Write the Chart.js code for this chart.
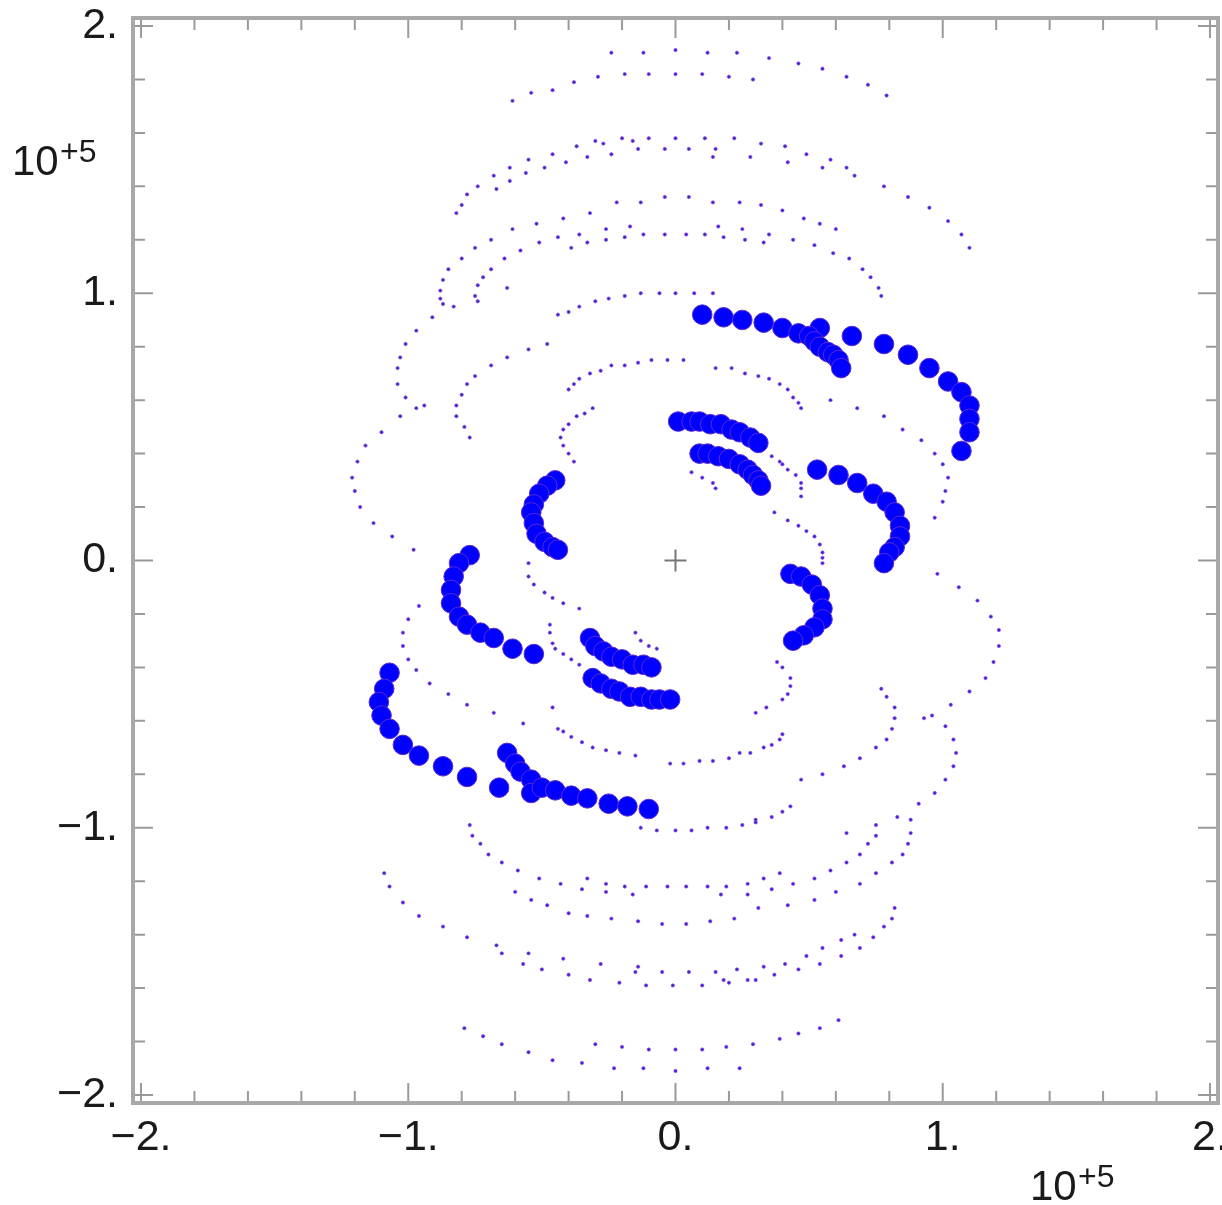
<!DOCTYPE html>
<html>
<head>
<meta charset="utf-8">
<script src="https://cdn.jsdelivr.net/npm/chart.js@4"></script>
<style>
  html, body { margin: 0; padding: 0; background: #fff; overflow: hidden; }
  #myChart { display: block; }
</style>
</head>
<body>
<canvas id="myChart" width="1222" height="1205"></canvas>
<script>
// values in units of 10^5
var tickValues = [-2, -1, 0, 1, 2];
var tickLabels = ['\u22122.', '\u22121.', '0.', '1.', '2.'];
var exponentLabel = ['10', '+5'];

// small dots, upper part
var dotsTop = [
  [-0.24,1.90],[-0.12,1.90],[0.00,1.91],[0.12,1.90],[0.23,1.90],[0.35,1.88],[0.46,1.86],[0.55,1.84],[0.64,1.81],[0.72,1.78],[0.79,1.74],
  [-0.61,1.72],[-0.54,1.75],[-0.46,1.76],[-0.38,1.79],[-0.29,1.81],[-0.19,1.82],[-0.10,1.82],[0.00,1.82],[0.10,1.82],[0.20,1.81],[0.29,1.80],
  [-0.41,1.49],[-0.37,1.55],[-0.33,1.51],[-0.30,1.57],[-0.27,1.56],[-0.24,1.52],[-0.20,1.58],[-0.16,1.57],[-0.14,1.54],[-0.10,1.58],
  [-0.04,1.54],[0.00,1.58],[0.05,1.54],[0.11,1.58],[0.15,1.54],[0.14,1.51],[0.22,1.58],[0.28,1.51],[0.32,1.56],[0.41,1.55],[0.49,1.52],
  [0.58,1.50],[0.42,1.49],[0.55,1.47],[0.64,1.47],[0.67,1.44],[0.78,1.40],[0.87,1.36],[0.95,1.32],[1.02,1.27],[1.07,1.22],[1.10,1.17],
  [-0.46,1.52],[-0.55,1.50],[-0.62,1.47],[-0.49,1.47],[-0.68,1.44],[-0.56,1.45],[-0.62,1.42],[-0.74,1.40],[-0.67,1.39],[-0.78,1.37],
  [-0.80,1.33],[-0.82,1.30],
  [-0.42,1.28],[-0.32,1.30],[-0.22,1.34],[-0.13,1.34],[-0.04,1.36],[0.05,1.36],[0.14,1.34],[0.24,1.34],[0.32,1.33],[0.40,1.31],
  [-0.39,1.17],[-0.33,1.19],[-0.36,1.22],[-0.26,1.24],[-0.26,1.20],[-0.17,1.25],[-0.19,1.21],[-0.12,1.22],[-0.04,1.22],[0.04,1.22],
  [0.11,1.22],[0.16,1.25],[0.18,1.21],[0.25,1.24],[0.26,1.20],[0.35,1.22],[0.33,1.19],
  [0.48,1.28],[0.54,1.26],[0.60,1.24],[0.44,1.20],[0.52,1.18],[0.59,1.15],[0.65,1.13],[0.70,1.09],[0.73,1.06],[0.76,1.02],[0.77,0.99],
  [-0.52,1.26],[-0.61,1.24],[-0.44,1.21],[-0.69,1.20],[-0.51,1.19],[-0.75,1.17],[-0.58,1.16],[-0.80,1.13],[-0.64,1.13],[-0.69,1.09],
  [-0.85,1.09],[-0.72,1.06],[-0.87,1.05],[-0.74,1.03],[-0.63,1.02],[-0.88,1.01],[-0.75,0.99],[-0.88,0.98],
  [-0.30,0.97],[-0.25,0.98],[-0.19,0.99],[-0.13,1.00],[-0.06,1.00],[0.00,1.00],[0.07,1.00],[0.14,1.00]
];

// small dots, middle part
var dotsMiddle = [
  [-0.87,0.96],[-0.83,0.95],[-0.74,0.97],[-0.91,0.91],[-0.97,0.86],[-1.01,0.81],[-1.03,0.76],[-1.04,0.72],[-1.04,0.66],[-1.01,0.61],
  [-1.03,0.54],[-1.10,0.48],[-1.16,0.43],[-1.19,0.37],[-1.21,0.31],[-1.20,0.26],[-1.18,0.20],[-1.13,0.14],[-1.06,0.09],[-0.98,0.04],
  [-0.44,0.92],[-0.48,0.81],[-0.55,0.79],[-0.63,0.76],[-0.69,0.73],[-0.75,0.69],[-0.78,0.66],[-0.80,0.62],[-0.82,0.58],[-0.82,0.54],
  [-0.79,0.50],[-0.77,0.46],[-0.94,0.58],[-0.97,0.57],
  [-0.40,0.93],[-0.36,0.95],
  [-0.40,0.64],[-0.38,0.66],[-0.36,0.68],[-0.32,0.70],[-0.28,0.71],[-0.24,0.73],[-0.19,0.73],[-0.14,0.74],[-0.09,0.75],[-0.03,0.75],
  [0.03,0.75],[0.15,0.72],[0.21,0.72],[0.26,0.70],[0.31,0.69],[0.35,0.68],[0.39,0.66],[0.42,0.64],[0.44,0.61],[0.46,0.59],[0.47,0.57],
  [-0.31,0.57],[-0.34,0.55],[-0.37,0.54],[-0.40,0.51],[-0.42,0.49],[-0.43,0.46],[-0.42,0.43],[-0.40,0.40],[-0.38,0.37],
  [0.06,0.33],[0.10,0.31],[0.14,0.29],[0.15,0.27],[0.37,0.18],[0.36,0.39],[0.39,0.37],
  [0.58,0.60],[0.68,0.57],[0.78,0.54],[0.85,0.49],[0.92,0.45],[0.97,0.40],[1.00,0.36],[1.02,0.31],[1.01,0.26],[1.00,0.22],[0.97,0.16],
  [0.40,0.36],[0.42,0.34],[0.45,0.32],[0.47,0.29],[0.47,0.27],[0.47,0.24],
  [0.42,0.15],[0.46,0.13],[0.49,0.11],[0.52,0.09],[0.54,0.06],[0.55,0.03],[0.55,0.01],[0.55,-0.01],
  [-0.96,-0.17],[-1.00,-0.22],[-1.02,-0.27],[-1.02,-0.32],[-1.00,-0.37],[-0.97,-0.41],[-0.92,-0.46],[-0.85,-0.50],[-0.78,-0.54],
  [-0.68,-0.57],[-0.57,-0.61],[-0.46,-0.55],[-0.44,-0.63],
  [-0.55,-0.01],[-0.55,-0.06],[-0.53,-0.09],[-0.49,-0.12],[-0.46,-0.14],[-0.47,-0.24],[-0.47,-0.27],[-0.46,-0.31],[-0.45,-0.33],
  [-0.42,-0.16],[-0.36,-0.18],[-0.15,-0.27],[-0.13,-0.30],[-0.10,-0.32],[-0.07,-0.33],[-0.42,-0.35],[-0.39,-0.37],[-0.36,-0.39],
  [0.38,-0.38],[0.34,-0.55],[0.30,-0.57],
  [-0.42,-0.64],[-0.39,-0.66],[-0.35,-0.68],[-0.31,-0.70],[-0.26,-0.71],[-0.21,-0.72],[-0.15,-0.73],[-0.02,-0.76],[0.03,-0.76],
  [0.09,-0.75],[0.14,-0.75],[0.20,-0.74],[0.24,-0.72],[0.28,-0.72],[0.33,-0.70],[0.36,-0.69],[0.39,-0.67],
  [0.36,-0.96],[0.30,-0.97],
  [0.98,-0.05],[1.06,-0.10],[1.13,-0.15],[1.18,-0.21],[1.21,-0.26],[1.21,-0.32],[1.19,-0.38],[1.16,-0.44],[1.10,-0.49],[1.03,-0.54],
  [0.96,-0.58],[0.93,-0.59],
  [0.77,-0.48],[0.79,-0.51],[0.82,-0.55],[0.82,-0.59],[0.81,-0.63],[0.79,-0.67],[0.75,-0.70],[0.69,-0.74],[0.63,-0.77],[0.55,-0.80],
  [0.47,-0.82],[0.43,-0.92],[0.40,-0.94],
  [1.01,-0.62],[1.04,-0.67],[1.05,-0.72],[1.04,-0.77],[1.01,-0.82],[0.97,-0.87],[0.91,-0.91],[0.83,-0.96],[0.88,-0.97],
  [0.40,-0.40],[0.43,-0.44],[0.43,-0.47],[0.42,-0.50],[0.40,-0.52],[0.40,-0.65]
];

// small dots, lower part
var dotsBottom = [
  [-0.77,-0.99],[-0.76,-1.03],[-0.73,-1.06],[-0.70,-1.10],[-0.65,-1.13],[-0.59,-1.16],[-0.51,-1.19],[-0.43,-1.21],
  [-1.09,-1.17],[-1.07,-1.22],[-1.02,-1.28],[-0.96,-1.33],[-0.87,-1.37],[-0.78,-1.41],[-0.67,-1.44],[-0.65,-1.47],
  [-0.60,-1.24],[-0.54,-1.27],[-0.48,-1.29],[-0.55,-1.47],[-0.57,-1.51],[-0.50,-1.53],
  [-0.79,-1.75],[-0.72,-1.78],[-0.65,-1.81],[-0.55,-1.84],[-0.46,-1.87],
  [-0.13,-1.00],[-0.07,-1.01],[0.00,-1.01],[0.06,-1.01],[0.12,-1.00],[0.19,-1.00],[0.25,-0.99],[0.30,-0.98],
  [-0.33,-1.19],[-0.35,-1.23],[-0.26,-1.21],[-0.26,-1.24],[-0.19,-1.22],[-0.16,-1.25],[-0.11,-1.22],[-0.03,-1.22],[0.04,-1.22],
  [0.12,-1.22],[0.17,-1.25],[0.19,-1.22],[0.27,-1.21],[0.27,-1.25],[0.33,-1.19],[0.36,-1.23],[0.39,-1.17],
  [-0.40,-1.32],[-0.33,-1.33],[-0.24,-1.34],[-0.14,-1.35],[-0.05,-1.36],[0.04,-1.36],[0.13,-1.35],[0.22,-1.34],[0.31,-1.30],
  [-0.42,-1.49],[-0.28,-1.51],[-0.40,-1.55],[-0.32,-1.57],[-0.21,-1.58],[-0.14,-1.52],[-0.15,-1.54],[-0.11,-1.59],[-0.05,-1.54],
  [-0.01,-1.59],[0.05,-1.54],[0.10,-1.59],[0.15,-1.54],[0.18,-1.57],[0.20,-1.58],[0.23,-1.53],[0.27,-1.57],[0.30,-1.57],[0.33,-1.52],
  [0.37,-1.55],
  [-0.30,-1.81],[-0.35,-1.88],[-0.20,-1.82],[-0.23,-1.90],[-0.10,-1.83],[-0.12,-1.90],[0.00,-1.83],[0.00,-1.91],[0.10,-1.83],
  [0.12,-1.90],[0.19,-1.82],[0.24,-1.90],[0.29,-1.81],[0.39,-1.79],
  [0.75,-0.99],[0.64,-1.02],[0.75,-1.03],[0.88,-1.02],[0.87,-1.06],[0.72,-1.06],[0.69,-1.10],[0.85,-1.10],[0.64,-1.13],[0.81,-1.13],
  [0.58,-1.16],[0.75,-1.17],[0.52,-1.19],[0.69,-1.21],[0.44,-1.21],[0.60,-1.24],[0.52,-1.27],[0.42,-1.29],[0.82,-1.30],[0.81,-1.34],
  [0.78,-1.37],[0.74,-1.41],[0.67,-1.40],[0.62,-1.42],[0.69,-1.45],[0.55,-1.45],[0.49,-1.48],[0.62,-1.48],[0.41,-1.51],[0.54,-1.51],
  [0.46,-1.53],
  [0.61,-1.72],[0.54,-1.75],[0.46,-1.77]
];

// large dots
var bigDots = [
  [0.10,0.92],[0.18,0.91],[0.25,0.90],[0.33,0.89],[0.40,0.87],[0.46,0.85],[0.54,0.87],[0.50,0.84],[0.52,0.82],[0.54,0.80],
  [0.57,0.78],[0.59,0.77],[0.61,0.75],[0.62,0.72],
  [0.66,0.84],[0.78,0.81],[0.87,0.77],[0.95,0.72],[1.02,0.67],[1.07,0.63],[1.10,0.58],[1.10,0.53],[1.10,0.48],[1.07,0.41],
  [0.01,0.52],[0.06,0.52],[0.09,0.52],[0.13,0.51],[0.17,0.51],[0.21,0.49],[0.24,0.48],[0.28,0.46],[0.31,0.44],
  [0.09,0.40],[0.12,0.40],[0.16,0.39],[0.20,0.38],[0.24,0.36],[0.27,0.34],[0.29,0.32],[0.31,0.30],[0.32,0.28],
  [0.53,0.34],[0.61,0.32],[0.68,0.29],[0.74,0.25],[0.79,0.22],[0.82,0.18],[0.84,0.13],[0.84,0.09],[0.82,0.05],[0.80,0.03],[0.78,-0.01],
  [0.43,-0.05],[0.47,-0.06],[0.51,-0.09],[0.54,-0.13],[0.55,-0.18],[0.55,-0.22],[0.52,-0.25],[0.48,-0.28],[0.44,-0.30],
  [-0.45,0.30],[-0.48,0.28],[-0.51,0.25],[-0.53,0.21],[-0.54,0.18],[-0.53,0.14],[-0.52,0.10],[-0.49,0.07],[-0.46,0.05],[-0.44,0.04],
  [-0.77,0.02],[-0.81,-0.01],[-0.83,-0.06],[-0.84,-0.11],[-0.84,-0.16],[-0.81,-0.21],[-0.78,-0.24],[-0.73,-0.27],[-0.68,-0.29],
  [-0.61,-0.33],[-0.53,-0.35],
  [-0.32,-0.29],[-0.30,-0.32],[-0.27,-0.34],[-0.24,-0.36],[-0.20,-0.37],[-0.16,-0.39],[-0.12,-0.39],[-0.09,-0.40],
  [-0.31,-0.44],[-0.28,-0.46],[-0.24,-0.48],[-0.21,-0.49],[-0.17,-0.51],[-0.13,-0.51],[-0.09,-0.52],[-0.06,-0.52],[-0.02,-0.52],
  [-1.07,-0.42],[-1.09,-0.48],[-1.11,-0.53],[-1.10,-0.58],[-1.07,-0.63],[-1.02,-0.69],[-0.96,-0.73],[-0.87,-0.77],[-0.78,-0.81],
  [-0.66,-0.85],
  [-0.63,-0.72],[-0.60,-0.76],[-0.58,-0.79],[-0.54,-0.82],[-0.54,-0.87],[-0.50,-0.85],[-0.45,-0.86],[-0.39,-0.88],[-0.33,-0.89],
  [-0.25,-0.91],[-0.18,-0.92],[-0.10,-0.93]
];

function toPoints(list) {
  return list.map(function (p) { return { x: p[0], y: p[1] }; });
}

var boxAxes = {
  id: 'boxAxes',
  beforeDatasetsDraw: function (chart) {
    var ctx = chart.ctx;
    var a = chart.chartArea;
    var xs = chart.scales.x, ys = chart.scales.y;
    ctx.save();
    ctx.strokeStyle = '#9a9a9a';
    ctx.lineWidth = 2;
    ctx.beginPath();
    for (var i = 0; i <= 20; i++) {
      var v = -2 + i * 0.2;
      var len = (i % 5 === 0) ? 20 : 12;
      var px = xs.getPixelForValue(v), py = ys.getPixelForValue(v);
      ctx.moveTo(px, a.bottom); ctx.lineTo(px, a.bottom - len);
      ctx.moveTo(px, a.top); ctx.lineTo(px, a.top + len);
      ctx.moveTo(a.left, py); ctx.lineTo(a.left + len, py);
      ctx.moveTo(a.right, py); ctx.lineTo(a.right - len, py);
    }
    ctx.stroke();
    ctx.lineWidth = 4;
    ctx.strokeStyle = '#a8a8a8';
    ctx.strokeRect(a.left, a.top, a.right - a.left, a.bottom - a.top);

    // origin cross
    var ox = xs.getPixelForValue(0), oy = ys.getPixelForValue(0);
    ctx.strokeStyle = '#777';
    ctx.lineWidth = 2;
    ctx.beginPath();
    ctx.moveTo(ox - 11, oy); ctx.lineTo(ox + 11, oy);
    ctx.moveTo(ox, oy - 11); ctx.lineTo(ox, oy + 11);
    ctx.stroke();

    // tick labels
    ctx.fillStyle = '#1a1a1a';
    ctx.font = '43px "Liberation Sans", Arial, sans-serif';
    ctx.textBaseline = 'middle';
    tickValues.forEach(function (v, k) {
      ctx.textAlign = 'right';
      ctx.fillText(tickLabels[k], a.left - 15, ys.getPixelForValue(v));
      ctx.textAlign = 'center';
      ctx.fillText(tickLabels[k], xs.getPixelForValue(v), a.bottom + 35);
    });

    // exponent labels
    ctx.textAlign = 'left';
    ctx.textBaseline = 'alphabetic';
    ctx.font = '42px "Liberation Sans", Arial, sans-serif';
    ctx.fillText(exponentLabel[0], 12, 175);
    ctx.fillText(exponentLabel[0], 1030, 1200);
    ctx.font = '32px "Liberation Sans", Arial, sans-serif';
    ctx.fillText(exponentLabel[1], 60, 162);
    ctx.fillText(exponentLabel[1], 1078, 1187);
    ctx.restore();
  }
};

var ctx = document.getElementById('myChart').getContext('2d');
var myChart = new Chart(ctx, {
  type: 'scatter',
  data: {
    datasets: [{
      label: 'large',
      data: toPoints(bigDots),
      pointRadius: 9.8,
      backgroundColor: '#0000ff',
      borderColor: '#5a2ad0',
      borderWidth: 1,
      order: 0
    }, {
      label: 'small',
      data: toPoints(dotsTop.concat(dotsMiddle, dotsBottom)),
      pointRadius: 1.7,
      backgroundColor: '#4a1ee0',
      borderColor: '#8a55d0',
      borderWidth: 0.6,
      order: 1
    }]
  },
  options: {
    responsive: false,
    animation: false,
    layout: { autoPadding: false, padding: { left: 133, top: 18, right: 4, bottom: 102 } },
    plugins: { legend: { display: false }, tooltip: { enabled: false } },
    scales: {
      x: { type: 'linear', min: -2.03, max: 2.03, display: false },
      y: { type: 'linear', min: -2.03, max: 2.03, display: false }
    }
  },
  plugins: [boxAxes]
});
</script>
</body>
</html>
